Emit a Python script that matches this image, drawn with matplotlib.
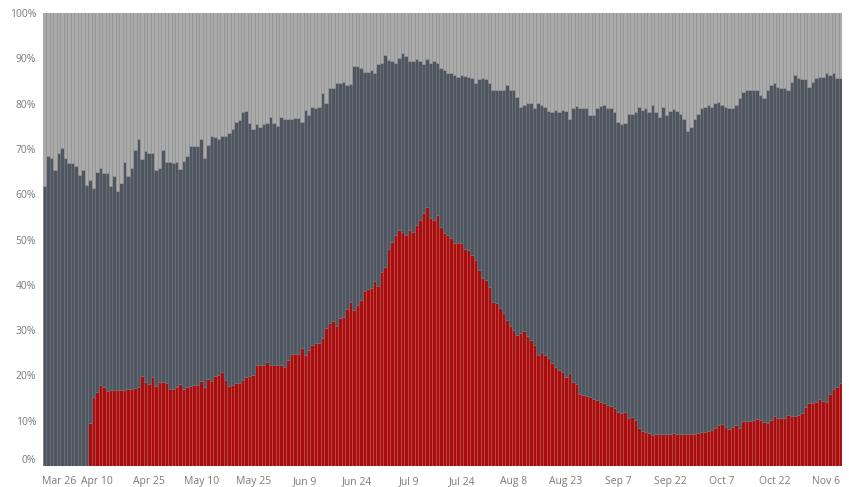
import matplotlib
matplotlib.use("Agg")
import matplotlib.pyplot as plt
import numpy as np
import pandas as pd

# ---- data ----
start_date = "2020-03-26"
n_days = 230

# share of the red (bottom) series, %
red_pct = [
    0, 0, 0, 0, 0, 0, 0, 0, 0, 0, 0, 0, 0, 9.6, 15.3, 16.4, 17.9, 17.5, 16.6, 16.8,
    16.8, 16.8, 16.8, 16.8, 16.9, 17.0, 17.3, 17.5, 19.9, 18.6, 18.2, 19.6, 17.7, 18.6, 18.5, 18.4, 17.1, 17.1, 17.5, 18.0,
    17.1, 17.5, 17.7, 17.9, 17.9, 18.8, 17.5, 19.1, 18.8, 19.9, 20.1, 20.7, 19.0, 17.7, 17.9, 18.4, 18.4, 19.0, 19.6, 19.9,
    20.1, 22.3, 22.3, 22.3, 23.0, 22.3, 22.3, 22.3, 22.3, 21.9, 23.3, 24.7, 24.7, 24.7, 26.0, 24.6, 25.6, 26.7, 27.1, 27.1,
    28.2, 30.4, 31.6, 31.9, 30.8, 32.6, 33.0, 34.6, 36.1, 34.4, 35.5, 36.6, 38.7, 39.0, 39.2, 40.9, 39.7, 42.9, 44.0, 48.0,
    49.5, 51.0, 52.2, 51.7, 51.0, 52.0, 51.7, 53.2, 54.3, 55.8, 57.2, 54.7, 54.3, 55.4, 52.8, 51.4, 51.0, 50.3, 49.3, 49.3,
    49.2, 48.0, 47.7, 46.6, 45.5, 43.3, 41.6, 41.1, 39.6, 36.3, 35.9, 34.8, 33.7, 32.2, 30.8, 30.0, 28.9, 29.3, 29.7, 28.6,
    27.8, 26.7, 24.5, 25.2, 24.5, 23.8, 22.7, 21.9, 21.2, 20.8, 19.7, 20.5, 18.6, 18.2, 15.9, 15.7, 15.5, 15.3, 14.9, 14.6,
    14.2, 13.8, 13.5, 13.2, 12.7, 12.0, 11.8, 12.0, 10.5, 10.9, 10.2, 8.3, 7.8, 7.6, 7.2, 6.8, 7.1, 7.1, 7.1, 7.1,
    7.1, 7.2, 7.0, 7.0, 7.0, 7.0, 7.0, 7.1, 7.2, 7.4, 7.4, 7.8, 7.9, 8.3, 9.1, 9.3, 8.5, 8.1, 8.7, 9.1,
    8.3, 10.0, 10.0, 10.0, 10.1, 10.3, 10.2, 9.8, 9.4, 10.2, 11.0, 10.5, 10.5, 10.7, 11.3, 11.0, 11.0, 11.3, 11.6, 13.1,
    13.8, 13.8, 14.2, 14.9, 14.4, 14.2, 16.0, 16.9, 17.5, 18.3,
]

# cumulative share of red + dark gray series, % (rest up to 100% is light gray)
red_dark_cum_pct = [
    61.8, 68.4, 68.0, 65.4, 69.1, 70.2, 68.0, 66.9, 66.8, 66.2, 64.3, 65.4, 62.1, 63.2, 61.4, 64.9, 65.8, 64.7, 64.7, 61.9,
    64.0, 60.7, 62.5, 67.0, 64.0, 65.8, 69.7, 72.2, 67.8, 69.5, 69.0, 69.0, 65.4, 65.8, 69.7, 67.0, 67.0, 66.9, 67.0, 65.6,
    67.3, 68.5, 70.6, 70.6, 70.6, 72.2, 68.0, 70.8, 72.8, 72.6, 72.1, 72.9, 72.9, 73.4, 74.3, 75.9, 76.3, 78.1, 78.3, 75.7,
    74.3, 75.6, 74.9, 75.4, 75.7, 77.1, 75.7, 75.0, 77.0, 76.5, 76.5, 76.7, 76.8, 76.8, 76.0, 78.5, 77.5, 79.3, 79.1, 79.3,
    82.3, 80.1, 83.4, 83.4, 84.5, 84.6, 84.8, 84.1, 84.3, 88.2, 88.2, 87.8, 87.0, 86.9, 87.4, 86.7, 88.7, 88.9, 90.7, 89.6,
    89.3, 88.9, 90.0, 91.2, 90.4, 89.3, 89.3, 89.8, 89.3, 88.7, 89.8, 89.0, 89.5, 88.9, 87.8, 87.4, 86.7, 86.7, 86.3, 85.9,
    86.3, 86.1, 85.8, 85.6, 84.5, 85.4, 85.6, 85.4, 84.5, 83.1, 83.0, 82.9, 83.0, 84.1, 83.0, 82.9, 81.4, 79.3, 79.7, 80.1,
    80.1, 79.0, 80.1, 79.7, 79.3, 78.4, 78.2, 78.6, 78.2, 78.6, 78.4, 76.7, 79.0, 79.5, 79.0, 79.0, 79.0, 77.5, 77.5, 79.0,
    79.5, 79.7, 79.0, 79.0, 78.2, 76.0, 75.6, 75.8, 77.8, 77.8, 78.2, 79.3, 78.6, 79.0, 78.2, 79.7, 78.2, 77.1, 79.3, 77.5,
    78.4, 78.7, 78.4, 77.7, 76.5, 74.0, 74.9, 76.5, 77.8, 79.0, 79.3, 79.7, 79.3, 80.2, 80.4, 79.7, 79.3, 79.0, 79.0, 79.7,
    81.2, 82.6, 82.9, 83.1, 83.1, 82.9, 81.9, 81.2, 83.1, 84.1, 84.5, 83.7, 83.4, 83.4, 83.0, 84.8, 86.3, 85.6, 85.4, 85.4,
    83.7, 84.8, 85.6, 85.9, 85.9, 86.7, 86.3, 86.7, 85.6, 85.6,
]

tick_labels = ["Mar 26", "Apr 10", "Apr 25", "May 10", "May 25", "Jun 9", "Jun 24", "Jul 9",
               "Jul 24", "Aug 8", "Aug 23", "Sep 7", "Sep 22", "Oct 7", "Oct 22", "Nov 6"]
tick_step_days = 15
y_ticks = list(range(0, 101, 10))

# ---- styling ----
RED = "#A80E0E"
RED_EDGE = "#C24C4C"
DARK = "#4F5660"
DARK_EDGE = "#6A7079"
LIGHT = "#ABABAB"
LIGHT_EDGE = "#8C8C8C"
TXT = "#7A7A7A"

plt.rcParams["font.family"] = ["Open Sans", "DejaVu Sans"]

dates = pd.date_range(start_date, periods=n_days, freq="D")
red = np.array(red_pct, dtype=float)
cum = np.array(red_dark_cum_pct, dtype=float)
dark = cum - red
light = 100.0 - cum

fig = plt.figure(figsize=(8.49, 4.87), dpi=100)
ax = fig.add_axes([43 / 849, 21 / 487, (842 - 43) / 849, (466 - 13) / 487])

lw = 0.45
ax.bar(dates, red, width=1.0, color=RED, edgecolor=RED_EDGE, linewidth=lw, align="center")
ax.bar(dates, dark, bottom=red, width=1.0, color=DARK, edgecolor=DARK_EDGE, linewidth=lw, align="center")
ax.bar(dates, light, bottom=cum, width=1.0, color=LIGHT, edgecolor=LIGHT_EDGE, linewidth=lw, align="center")

ax.set_xlim(dates[0] - pd.Timedelta(hours=12), dates[-1] + pd.Timedelta(hours=12))
ax.set_ylim(0, 100)

for s in ax.spines.values():
    s.set_visible(False)

ax.set_yticks(y_ticks)
ax.set_yticklabels([f"{v}%" for v in y_ticks])
ax.tick_params(axis="y", length=0, pad=5, labelsize=7.5, labelcolor=TXT)
ylabels = ax.get_yticklabels()
ylabels[0].set_verticalalignment("bottom")

tick_dates = dates[::tick_step_days][: len(tick_labels)]
ax.set_xticks(tick_dates)
ax.set_xticklabels(tick_labels)
ax.tick_params(axis="x", length=0, pad=7, labelsize=7.5, labelcolor=TXT)
xlabels = ax.get_xticklabels()
xlabels[0].set_horizontalalignment("left")
import matplotlib.transforms as mtransforms
xlabels[0].set_transform(xlabels[0].get_transform() + mtransforms.ScaledTranslation(-3 / 100, 0, fig.dpi_scale_trans))

fig.savefig("out.png", dpi=100)
